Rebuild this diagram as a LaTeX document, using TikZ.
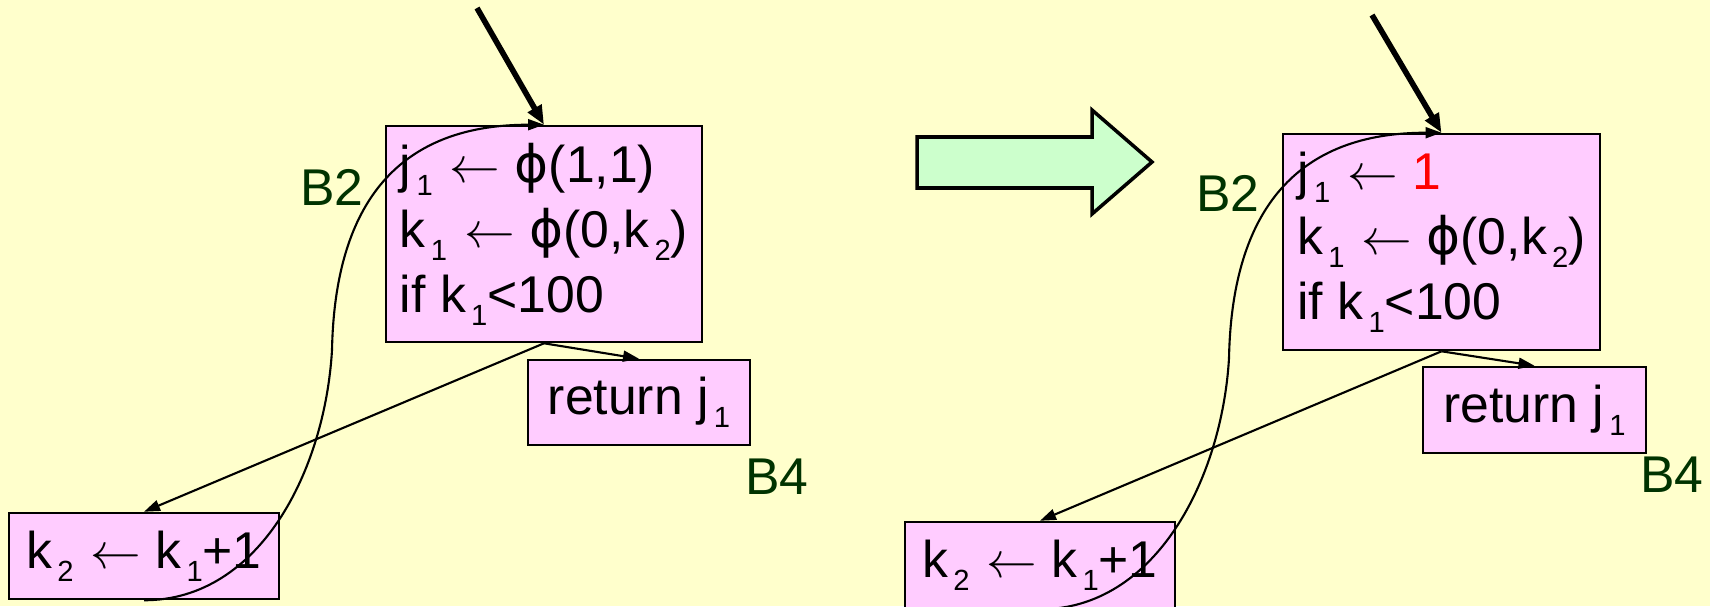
\documentclass[tikz,border=0pt]{standalone}
\usepackage{fontspec}
\setmainfont{Liberation Sans}
\newfontfamily\phifont{DejaVu Sans}
\usepackage{xcolor}
\usetikzlibrary{arrows.meta, calc}

\definecolor{bgyellow}{HTML}{FFFFCC}
\definecolor{boxpink}{HTML}{FFCCFF}
\definecolor{shiftgreen}{HTML}{CCFFCC}
\definecolor{labelgreen}{HTML}{003300}

\newcommand{\sbs}[1]{\kern0.1em\raisebox{-0.25em}{\fontsize{8.3}{8.3}\selectfont #1}}
\newcommand{\phis}{{\phifont ϕ}}
\newcommand{\larr}{\kern0.05em$\leftarrow$}

\begin{document}
\begin{tikzpicture}[x=0.01cm, y=-0.01cm,
  blockbox/.style={draw, line width=0.7pt, fill=boxpink, inner sep=0pt,
                   align=left,
                   font=\fontsize{14.7}{18.5}\selectfont},
  blabel/.style={text=labelgreen, inner sep=0pt,
                 font=\fontsize{14.7}{18.5}\selectfont},
  arr/.style={-{Triangle[length=0.16cm, width=0.11cm]}, line width=0.6pt},
  tarr/.style={-{Triangle[length=0.19cm, width=0.15cm]}, line width=1.6pt}
]
\useasboundingbox (0,0) rectangle (1710,606);
\fill[bgyellow] (0,0) rectangle (1710,606);

% Before: blocks
\node[blockbox, minimum width=3.16cm, minimum height=2.16cm] (lb2) at (544,234)
  {j\sbs{1} \larr\ \phis(1,1)\\ k\sbs{1} \larr\ \phis(0,k\sbs{2})\\ if k\sbs{1}<100};
\node[blockbox, minimum width=2.22cm, minimum height=0.85cm] (lb4) at (639,402.5)
  {return j\sbs{1}};
\node[blockbox, minimum width=2.70cm, minimum height=0.86cm] (lb3) at (144,556)
  {k\sbs{2} \larr\ k\sbs{1}+1};
\node[blabel] (lb2name) at (332,187) {B2};
\node[blabel] (lb4name) at (777,477) {B4};

% Before: edges
\coordinate (lentry) at (477,8);
\coordinate (lloop) at (332,350);
\draw[tarr] (lentry) -- (lb2.north);
\draw[arr] (lb2.south) -- (lb4.north);
\draw[arr] (lb2.south) -- (lb3.north);
\draw[arr] (lb3.south) .. controls ($(lb3.south)+(116,0)$) and ($(lloop)+(-7,120)$) .. (lloop)
  .. controls ($(lloop)+(3,-150)$) and ($(lb2.north)+(-143,0)$) .. (lb2.north);

% Transformation arrow
\filldraw[fill=shiftgreen, line width=1pt]
  (917,137) -- (1092,137) -- (1092,110) -- (1152,162) -- (1092,214) -- (1092,188) -- (917,188) -- cycle;

% After: blocks
\node[blockbox, minimum width=3.17cm, minimum height=2.16cm] (rb2) at (1441.5,242)
  {j\sbs{1} \larr\ \textcolor{red}{1}\\ k\sbs{1} \larr\ \phis(0,k\sbs{2})\\ if k\sbs{1}<100};
\node[blockbox, minimum width=2.23cm, minimum height=0.86cm] (rb4) at (1534.5,410)
  {return j\sbs{1}};
\node[blockbox, minimum width=2.70cm, minimum height=0.86cm] (rb3) at (1040,565)
  {k\sbs{2} \larr\ k\sbs{1}+1};
\node[blabel] (rb2name) at (1228,193) {B2};
\node[blabel] (rb4name) at (1672,475) {B4};

% After: edges
\coordinate (rentry) at (1372,15);
\coordinate (rloop) at (1229,358);
\draw[tarr] (rentry) -- (rb2.north);
\draw[arr] (rb2.south) -- (rb4.north);
\draw[arr] (rb2.south) -- (rb3.north);
\draw[arr] (rb3.south) .. controls ($(rb3.south)+(116,0)$) and ($(rloop)+(-7,120)$) .. (rloop)
  .. controls ($(rloop)+(3,-150)$) and ($(rb2.north)+(-143,0)$) .. (rb2.north);
\end{tikzpicture}
\end{document}
